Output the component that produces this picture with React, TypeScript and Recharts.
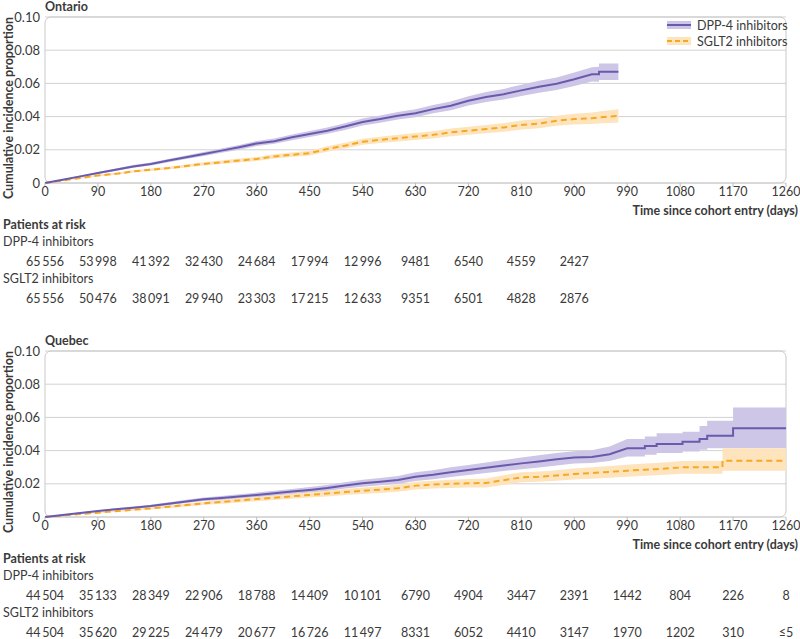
import React from 'react';
import { ComposedChart, Line, Area, XAxis, YAxis, CartesianGrid, ReferenceArea, Legend } from 'recharts';

document.body.style.margin = '0';

const FONT = 'Lato, "Open Sans", sans-serif';
const TEXT = '#3a3a3a';
const PURPLE = '#6a5aad';
const PURPLE_BAND = '#cdc6e6';
const ORANGE = '#f7a823';
const ORANGE_BAND = '#fde4bd';

const xTicks = [0, 90, 180, 270, 360, 450, 540, 630, 720, 810, 900, 990, 1080, 1170, 1260];
const yTicks = [0, 0.02, 0.04, 0.06, 0.08, 0.1];

// Ontario cumulative incidence
const ontarioDays = [0, 30, 60, 90, 120, 150, 180, 210, 240, 270, 300, 330, 360, 390, 420, 450, 480, 510, 540, 570, 600, 630, 660, 690, 720, 750, 780, 810, 840, 870, 900, 930, 942, 942, 975];
const ontarioDpp = [0, 0.002, 0.004, 0.006, 0.008, 0.01, 0.0115, 0.0135, 0.0155, 0.0175, 0.0195, 0.0215, 0.0238, 0.0252, 0.0275, 0.0295, 0.0315, 0.034, 0.0368, 0.0385, 0.0405, 0.042, 0.0445, 0.0465, 0.0495, 0.0518, 0.0535, 0.0558, 0.058, 0.0598, 0.0625, 0.0655, 0.0655, 0.067, 0.067];
const ontarioDppLo = [0, 0.0017, 0.0035, 0.0054, 0.0073, 0.0092, 0.0106, 0.0125, 0.0144, 0.0163, 0.0182, 0.0201, 0.0223, 0.0236, 0.0258, 0.0277, 0.0296, 0.032, 0.0347, 0.0363, 0.0382, 0.0396, 0.042, 0.0439, 0.0467, 0.0488, 0.0503, 0.0524, 0.0544, 0.056, 0.0585, 0.0612, 0.061, 0.062, 0.062];
const ontarioDppHi = [0, 0.0023, 0.0045, 0.0066, 0.0087, 0.0108, 0.0124, 0.0145, 0.0166, 0.0187, 0.0208, 0.0229, 0.0253, 0.0268, 0.0292, 0.0313, 0.0334, 0.036, 0.0389, 0.0407, 0.0428, 0.0444, 0.047, 0.0491, 0.0523, 0.0548, 0.0567, 0.0592, 0.0616, 0.0636, 0.0665, 0.0698, 0.07, 0.072, 0.072];
const ontarioSglt2 = [0, 0.0015, 0.003, 0.0045, 0.0055, 0.007, 0.008, 0.009, 0.0103, 0.0115, 0.0125, 0.0135, 0.0145, 0.016, 0.017, 0.018, 0.0205, 0.0225, 0.0248, 0.026, 0.027, 0.028, 0.029, 0.0305, 0.0315, 0.0325, 0.0335, 0.035, 0.0358, 0.0375, 0.0385, 0.039, 0.0395, 0.0395, 0.0405];
const ontarioSglt2Lo = [0, 0.0012, 0.0026, 0.004, 0.0049, 0.0063, 0.0072, 0.0082, 0.0094, 0.0105, 0.0114, 0.0123, 0.0133, 0.0147, 0.0156, 0.0165, 0.0189, 0.0208, 0.023, 0.0241, 0.025, 0.0259, 0.0268, 0.0282, 0.0291, 0.03, 0.0309, 0.0323, 0.033, 0.0345, 0.0353, 0.0356, 0.0359, 0.0359, 0.0365];
const ontarioSglt2Hi = [0, 0.0018, 0.0034, 0.005, 0.0061, 0.0077, 0.0088, 0.0098, 0.0112, 0.0125, 0.0136, 0.0147, 0.0157, 0.0173, 0.0184, 0.0195, 0.0221, 0.0242, 0.0266, 0.0279, 0.029, 0.0301, 0.0312, 0.0328, 0.0339, 0.035, 0.0361, 0.0377, 0.0386, 0.0405, 0.0417, 0.0424, 0.0431, 0.0431, 0.0445];

const ontarioRiskDpp = [65556, 53998, 41392, 32430, 24684, 17994, 12996, 9481, 6540, 4559, 2427];
const ontarioRiskSglt2 = [65556, 50476, 38091, 29940, 23303, 17215, 12633, 9351, 6501, 4828, 2876];

// Quebec
const quebecDays = [0, 30, 60, 90, 120, 150, 180, 210, 240, 270, 300, 330, 360, 390, 420, 450, 480, 510, 540, 570, 600, 630, 660, 690, 720, 750, 780, 810, 840, 870, 900, 930, 960, 990, 1020, 1020, 1040, 1040, 1084, 1084, 1113, 1113, 1126, 1126, 1152, 1152, 1170, 1170, 1260];
const quebecDpp = [0, 0.0012, 0.0024, 0.0036, 0.0046, 0.0056, 0.0066, 0.008, 0.0094, 0.0107, 0.0115, 0.0124, 0.0133, 0.0143, 0.0153, 0.0163, 0.0175, 0.019, 0.0203, 0.0213, 0.0223, 0.0243, 0.0255, 0.027, 0.0283, 0.0297, 0.031, 0.0323, 0.0335, 0.0348, 0.0358, 0.0362, 0.0378, 0.0414, 0.0414, 0.0428, 0.0428, 0.044, 0.044, 0.0454, 0.0454, 0.047, 0.047, 0.049, 0.049, 0.049, 0.049, 0.0534, 0.0534];
const quebecDppLo = [0, 0.0009, 0.002, 0.0031, 0.004, 0.0049, 0.0058, 0.0071, 0.0084, 0.0096, 0.0103, 0.0111, 0.0119, 0.0128, 0.0137, 0.0146, 0.0157, 0.0171, 0.0182, 0.0191, 0.0199, 0.0217, 0.0228, 0.0241, 0.0253, 0.0265, 0.0277, 0.0288, 0.0298, 0.031, 0.0322, 0.0325, 0.0338, 0.0365, 0.0365, 0.0375, 0.0375, 0.0385, 0.0385, 0.0395, 0.0395, 0.0405, 0.0405, 0.0414, 0.0414, 0.0414, 0.0414, 0.0414, 0.0414];
const quebecDppHi = [0, 0.0015, 0.0028, 0.0041, 0.0052, 0.0063, 0.0074, 0.0089, 0.0104, 0.0118, 0.0127, 0.0137, 0.0147, 0.0158, 0.0169, 0.018, 0.0193, 0.0209, 0.0224, 0.0235, 0.0247, 0.0269, 0.0282, 0.0299, 0.0313, 0.0329, 0.0343, 0.0358, 0.0372, 0.0386, 0.0396, 0.0402, 0.0425, 0.047, 0.047, 0.0485, 0.0485, 0.0504, 0.0504, 0.0514, 0.0514, 0.0548, 0.0548, 0.058, 0.058, 0.058, 0.058, 0.066, 0.066];
const quebecSglt2 = [0, 0.0009, 0.0018, 0.0026, 0.0035, 0.0044, 0.0052, 0.0062, 0.0072, 0.0082, 0.0091, 0.01, 0.0108, 0.0116, 0.0125, 0.0133, 0.0141, 0.015, 0.0158, 0.0165, 0.0173, 0.0189, 0.0195, 0.02, 0.0203, 0.0205, 0.0222, 0.0239, 0.0243, 0.025, 0.0259, 0.0265, 0.0272, 0.0279, 0.0285, 0.0285, 0.0288, 0.0288, 0.0299, 0.0299, 0.03, 0.03, 0.03, 0.03, 0.03, 0.0339, 0.0339, 0.0339, 0.0339];
const quebecSglt2Lo = [0, 0.0007, 0.0015, 0.0022, 0.003, 0.0038, 0.0045, 0.0054, 0.0063, 0.0072, 0.008, 0.0088, 0.0095, 0.0102, 0.011, 0.0117, 0.0124, 0.0132, 0.0139, 0.0145, 0.0152, 0.0166, 0.0171, 0.0175, 0.0177, 0.0178, 0.0193, 0.0209, 0.0212, 0.0218, 0.0226, 0.0231, 0.0237, 0.0243, 0.0248, 0.0248, 0.0251, 0.0251, 0.026, 0.026, 0.0261, 0.0261, 0.0261, 0.0261, 0.0261, 0.0279, 0.0279, 0.0279, 0.0279];
const quebecSglt2Hi = [0, 0.0011, 0.0021, 0.003, 0.004, 0.005, 0.0059, 0.007, 0.0081, 0.0092, 0.0102, 0.0112, 0.0121, 0.013, 0.014, 0.0149, 0.0158, 0.0168, 0.0177, 0.0185, 0.0194, 0.0212, 0.0219, 0.0225, 0.0229, 0.0232, 0.0251, 0.0269, 0.0274, 0.0282, 0.0292, 0.0299, 0.0307, 0.0315, 0.0322, 0.0322, 0.0325, 0.0325, 0.0338, 0.0338, 0.0339, 0.0339, 0.0339, 0.0339, 0.0339, 0.0414, 0.0414, 0.0414, 0.0414];

const quebecRiskDpp: (number | string)[] = [44504, 35133, 28349, 22906, 18788, 14409, 10101, 6790, 4904, 3447, 2391, 1442, 804, 226, 8];
const quebecRiskSglt2: (number | string)[] = [44504, 35620, 29225, 24479, 20677, 16726, 11497, 8331, 6052, 4410, 3147, 1970, 1202, 310, '≤5'];

function buildRows(days, dpp, dppLo, dppHi, sg, sgLo, sgHi) {
  return days.map((day, i) => ({
    day,
    dpp: dpp[i],
    dppBand: [dppLo[i], dppHi[i]],
    sglt2: sg[i],
    sglt2Band: [sgLo[i], sgHi[i]],
  }));
}

const ontarioData = buildRows(ontarioDays, ontarioDpp, ontarioDppLo, ontarioDppHi, ontarioSglt2, ontarioSglt2Lo, ontarioSglt2Hi);
const quebecData = buildRows(quebecDays, quebecDpp, quebecDppLo, quebecDppHi, quebecSglt2, quebecSglt2Lo, quebecSglt2Hi);

function fmtRisk(v: number | string) {
  if (typeof v === 'string') return v;
  if (v >= 10000) return `${Math.floor(v / 1000)}\u2009${String(v % 1000).padStart(3, '0')}`;
  return String(v);
}

function RiskTick(props: any) {
  const { x, y, payload, rows } = props;
  const i = xTicks.indexOf(payload.value);
  return (
    <g fontFamily={FONT} fontSize={12.5} fill={TEXT}>
      <text x={x} y={y + 4} textAnchor="middle" dominantBaseline="central" fill={TEXT}>{payload.value}</text>
      {rows.map((r: (number | string)[], k: number) =>
        r[i] !== undefined ? (
          <text key={k} x={x} y={y + 74 + k * 37} textAnchor="middle" dominantBaseline="central" fill={TEXT}>
            {fmtRisk(r[i])}
          </text>
        ) : null
      )}
    </g>
  );
}

function LegendBox() {
  const items = [
    { name: 'DPP-4 inhibitors', color: PURPLE, band: PURPLE_BAND, dash: undefined },
    { name: 'SGLT2 inhibitors', color: ORANGE, band: ORANGE_BAND, dash: '5 3' },
  ];
  return (
    <div style={{ fontFamily: FONT, fontSize: 12.5, color: TEXT }}>
      {items.map((it) => (
        <div key={it.name} style={{ display: 'flex', alignItems: 'center', height: 16 }}>
          <svg width={24} height={10} style={{ marginRight: 6 }}>
            <rect x={0} y={1} width={24} height={8} fill={it.band} />
            <line x1={0} y1={5} x2={24} y2={5} stroke={it.color} strokeWidth={2} strokeDasharray={it.dash} />
          </svg>
          <span>{it.name}</span>
        </div>
      ))}
    </div>
  );
}

const frameShape = (p: any) => (
  <rect x={p.x} y={p.y} width={p.width} height={p.height} rx={6} ry={6} fill="none" stroke="#c9c9c9" strokeWidth={1} />
);

function Panel({ title, data, riskRows, showLegend }) {
  const labelStyle: React.CSSProperties = { position: 'absolute', fontFamily: FONT, fontSize: 12.5, color: TEXT, lineHeight: '14px', whiteSpace: 'nowrap' };
  return (
    <div style={{ position: 'relative', width: 800, height: 305 }}>
      <ComposedChart width={800} height={305} data={data} margin={{ top: 17, right: 14, bottom: 92, left: 0 }}>
        <CartesianGrid vertical={false} stroke="#d2d2d2" />
        <ReferenceArea x1={0} x2={1260} y1={0} y2={0.1} shape={frameShape} ifOverflow="visible" />
        <XAxis
          dataKey="day"
          type="number"
          domain={[0, 1260]}
          ticks={xTicks}
          interval={0}
          height={30}
          axisLine={false}
          tickLine={{ stroke: '#bdbdbd' }}
          tickSize={4}
          tickMargin={0}
          tick={(p: any) => <RiskTick {...p} rows={riskRows} />}
        />
        <YAxis
          type="number"
          domain={[0, 0.1]}
          ticks={yTicks}
          width={45}
          axisLine={false}
          tickLine={false}
          tickSize={3}
          tickMargin={2}
          tick={{ fill: TEXT, fontSize: 13, fontFamily: FONT }}
          tickFormatter={(v: number) => (v === 0 ? '0' : v.toFixed(2))}
          label={{
            value: 'Cumulative incidence proportion',
            angle: -90,
            position: 'insideLeft',
            offset: 9,
            dy: 8,
            style: { textAnchor: 'middle', fontWeight: 700, fontSize: 12.5, fontFamily: FONT, fill: TEXT },
          }}
        />
        {showLegend && (
          <Legend
            layout="horizontal"
            verticalAlign="middle"
            align="center"
            content={() => <LegendBox />}
            wrapperStyle={{ left: 667, top: 17, width: 130, height: 34 }}
          />
        )}
        <Area type="linear" dataKey="dppBand" stroke="none" fill={PURPLE_BAND} fillOpacity={1} isAnimationActive={false} activeDot={false} />
        <Area type="linear" dataKey="sglt2Band" stroke="none" fill={ORANGE_BAND} fillOpacity={1} isAnimationActive={false} activeDot={false} />
        <Line type="linear" dataKey="sglt2" stroke={ORANGE} strokeWidth={2} strokeDasharray="6 4" dot={false} isAnimationActive={false} />
        <Line type="linear" dataKey="dpp" stroke={PURPLE} strokeWidth={2} dot={false} isAnimationActive={false} />
      </ComposedChart>
      <div style={{ ...labelStyle, left: 45, top: 0, fontWeight: 700 }}>{title}</div>
      <div style={{ ...labelStyle, right: 2, top: 204, fontWeight: 700 }}>Time since cohort entry (days)</div>
      <div style={{ ...labelStyle, left: 3, top: 218, fontWeight: 700 }}>Patients at risk</div>
      <div style={{ ...labelStyle, left: 3, top: 235 }}>DPP-4 inhibitors</div>
      <div style={{ ...labelStyle, left: 3, top: 272 }}>SGLT2 inhibitors</div>
    </div>
  );
}

export default function App() {
  return (
    <div style={{ position: 'relative', width: 800, height: 639, background: '#fff', overflow: 'hidden' }}>
      <div style={{ position: 'absolute', left: 0, top: 0 }}>
        <Panel title="Ontario" data={ontarioData} riskRows={[ontarioRiskDpp, ontarioRiskSglt2]} showLegend />
      </div>
      <div style={{ position: 'absolute', left: 0, top: 334 }}>
        <Panel title="Quebec" data={quebecData} riskRows={[quebecRiskDpp, quebecRiskSglt2]} showLegend={false} />
      </div>
    </div>
  );
}
